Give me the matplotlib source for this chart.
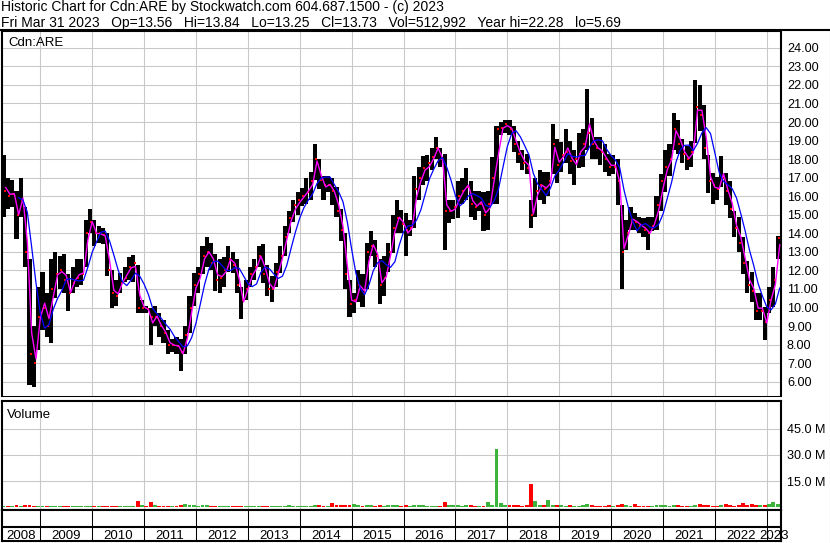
import matplotlib
matplotlib.use("Agg")
import matplotlib.pyplot as plt
import numpy as np
import pandas as pd

plt.rcParams["font.family"] = ["Liberation Sans", "DejaVu Sans"]

W, H = 830, 543

# ------------------ Data (monthly, Apr 2008 -> Mar 2023) ------------------
FIRST_MONTH = 2008.25   # April 2008 as decimal year

highs = [
    18.2, 17.0, 16.9, 16.3, 17.0, 15.4, 12.6, 9.0, 11.1,                      # 2008
    11.9, 10.8, 12.6, 13.0, 12.8, 12.9, 11.8, 12.2, 12.6, 12.6, 14.7, 15.3,   # 2009
    14.7, 14.4, 14.3, 14.0, 12.0, 11.5, 11.85, 12.2, 12.7, 12.85, 12.3, 10.4, # 2010
    10.1, 10.0, 10.1, 9.7, 9.3, 8.8, 8.3, 8.4, 8.3, 9.0, 10.6, 11.85,         # 2011
    12.2, 13.3, 13.8, 13.5, 12.9, 12.6, 12.7, 13.3, 13.0, 12.6, 11.1, 11.5,   # 2012
    12.2, 12.6, 13.3, 13.4, 12.3, 11.7, 12.4, 13.3, 14.4, 15.2, 15.8, 16.2,   # 2013
    16.45, 17.0, 17.3, 18.8, 18.0, 17.1, 17.1, 17.0, 16.5, 15.3, 14.0, 11.5,  # 2014
    10.8, 12.0, 11.8, 13.5, 14.1, 13.65, 12.6, 12.75, 13.5, 15.0, 15.8, 15.25,# 2015
    15.1, 14.7, 17.1, 17.6, 18.15, 18.2, 18.6, 19.2, 18.6, 18.3, 15.8, 15.8,  # 2016
    16.8, 17.0, 17.5, 16.8, 16.3, 16.3, 16.2, 16.3, 18.1, 19.8, 20.0, 20.1,   # 2017
    20.1, 19.8, 19.0, 18.5, 18.3, 15.8, 17.0, 17.4, 17.3, 17.3, 19.9, 19.1,   # 2018
    18.9, 19.6, 19.0, 18.5, 19.4, 19.6, 21.8, 20.2, 19.2, 19.2, 18.8, 18.3,   # 2019
    18.2, 18.0, 15.5, 14.7, 15.4, 15.1, 14.9, 14.8, 14.9, 14.9, 16.0, 17.2,   # 2020
    18.5, 18.8, 20.5, 20.1, 19.1, 18.7, 19.0, 22.28, 22.0, 20.9, 18.2, 17.25, # 2021
    17.05, 18.15, 17.25, 16.8, 15.2, 14.9, 13.8, 12.5, 11.9, 10.8, 10.8, 10.05,  # 2022
    11.1, 12.2, 13.84,                                                         # 2023
]
lows = [
    14.9, 15.3, 15.4, 13.7, 14.9, 12.2, 5.8, 5.69, 7.7,
    8.8, 8.4, 8.1, 10.5, 11.0, 10.8, 9.8, 10.8, 11.1, 11.2, 12.2, 14.0,
    13.3, 13.5, 13.4, 11.7, 10.0, 10.1, 10.8, 11.4, 11.5, 11.4, 9.7, 9.7,
    9.7, 8.0, 9.0, 8.4, 8.1, 7.5, 7.6, 7.5, 6.6, 7.5, 8.6, 10.1,
    10.8, 11.8, 12.2, 12.0, 10.9, 10.8, 11.1, 11.9, 11.85, 10.8, 9.4, 10.4,
    11.1, 11.5, 12.2, 11.3, 10.6, 10.3, 11.1, 11.85, 12.75, 14.0, 14.6, 15.0,
    15.45, 15.6, 15.8, 16.9, 16.4, 15.8, 16.2, 15.5, 14.9, 13.6, 11.0, 9.5,
    9.7, 10.3, 10.05, 11.0, 12.75, 12.2, 10.2, 10.6, 11.9, 12.95, 14.0, 14.0,
    12.75, 13.85, 14.3, 15.8, 16.6, 16.8, 17.4, 18.0, 17.6, 13.1, 14.55, 14.75,
    14.8, 15.6, 15.8, 14.9, 14.7, 15.2, 14.1, 14.2, 15.6, 15.6, 19.3, 19.4,
    19.3, 18.4, 17.8, 17.4, 17.2, 14.3, 14.9, 15.8, 15.6, 16.0, 17.2, 16.7,
    17.3, 17.8, 17.2, 16.6, 17.5, 17.6, 18.5, 18.0, 18.0, 17.7, 17.3, 17.1,
    17.2, 15.5, 11.0, 13.1, 14.2, 14.2, 14.0, 13.8, 13.1, 14.1, 14.2, 15.2,
    16.2, 17.1, 18.5, 18.3, 17.8, 17.4, 17.6, 18.85, 19.5, 18.0, 16.15, 15.6,
    15.8, 16.5, 15.5, 14.8, 13.8, 13.0, 11.8, 10.8, 10.3, 9.3, 9.3, 8.25,
    9.7, 10.05, 12.6,
]
closes = [
    16.3, 16.0, 16.1, 15.0, 15.8, 13.0, 7.5, 7.0, 9.5,
    10.0, 9.0, 11.0, 11.8, 12.0, 11.5, 10.8, 11.3, 11.6, 11.8, 14.0, 14.6,
    14.0, 14.0, 13.9, 12.0, 10.8, 10.6, 11.3, 11.6, 12.2, 12.4, 10.0, 10.0,
    9.9, 9.5, 9.5, 9.0, 8.6, 8.0, 8.0, 7.9, 7.6, 8.5, 10.0, 11.2,
    11.8, 12.8, 13.0, 12.4, 11.5, 11.6, 12.0, 12.6, 12.3, 11.2, 10.4, 11.0,
    11.8, 12.2, 12.8, 11.8, 11.0, 11.0, 11.9, 12.8, 13.8, 14.8, 15.5, 15.8,
    16.0, 16.2, 16.8, 18.0, 16.9, 16.6, 16.6, 16.3, 15.2, 14.2, 11.8, 10.2,
    10.4, 11.2, 10.8, 13.0, 13.3, 12.8, 11.2, 11.6, 13.0, 14.3, 14.8, 14.5,
    14.2, 14.3, 16.4, 17.0, 17.5, 17.8, 18.1, 18.6, 18.0, 15.2, 15.2, 15.4,
    16.0, 16.3, 16.5, 15.6, 15.4, 15.6, 15.0, 15.6, 17.0, 19.6, 19.7, 19.9,
    19.6, 18.8, 18.3, 17.8, 17.5, 15.0, 16.3, 16.6, 16.4, 16.8, 18.8, 17.7,
    18.2, 18.4, 17.9, 18.0, 18.3, 18.8, 19.4, 18.8, 18.6, 18.4, 18.0, 17.6,
    17.6, 16.8, 13.0, 14.0, 14.7, 14.6, 14.4, 14.2, 14.0, 14.4, 15.5, 16.8,
    17.6, 18.0, 19.6, 18.8, 18.3, 18.0, 18.4, 20.8, 20.4, 18.6, 16.8, 16.6,
    16.4, 17.0, 16.3, 15.3, 14.3, 13.5, 12.4, 11.2, 10.9, 9.8, 9.8, 9.2,
    10.4, 11.5, 13.73,
]
# peak daily volume per month, millions of shares
volume_m = [
    1.0, 0.8, 0.9, 1.2, 0.8, 1.1, 1.3, 0.9, 0.8,
    0.7, 0.6, 1.0, 0.9, 0.8, 0.7, 0.6, 0.7, 0.8, 0.6, 1.0, 0.9,
    0.7, 0.6, 0.6, 0.9, 0.8, 0.6, 0.5, 0.6, 0.7, 0.9, 3.8, 1.2,
    1.0, 3.3, 1.1, 0.9, 0.8, 0.7, 0.8, 0.9, 1.2, 1.9, 1.4, 1.1,
    1.0, 1.3, 1.1, 0.8, 0.9, 0.7, 0.6, 0.7, 0.8, 0.7, 1.0, 0.8,
    0.8, 0.7, 0.9, 1.0, 0.9, 0.7, 0.6, 0.8, 1.0, 1.1, 0.9, 0.8,
    0.9, 1.0, 1.0, 1.4, 1.2, 1.0, 0.9, 2.5, 1.1, 1.2, 1.6, 1.4,
    1.9, 1.2, 1.0, 1.3, 1.1, 0.9, 1.2, 1.0, 1.1, 1.3, 1.2, 1.0,
    1.2, 1.0, 1.5, 1.3, 1.1, 1.0, 0.9, 1.0, 0.9, 3.1, 1.4, 1.2,
    1.1, 1.0, 1.2, 1.1, 1.0, 0.9, 1.0, 3.1, 1.6, 33.5, 2.2, 1.6,
    1.4, 1.2, 1.1, 1.0, 1.2, 13.5, 3.7, 1.3, 1.1, 4.2, 1.5, 1.2,
    1.1, 1.0, 1.2, 0.9, 1.0, 1.1, 1.9, 1.2, 1.0, 0.9, 1.0, 1.1,
    1.0, 1.1, 1.8, 1.3, 1.0, 1.9, 1.0, 0.9, 1.0, 0.9, 1.1, 1.2,
    1.2, 1.0, 1.3, 1.1, 0.9, 1.0, 1.0, 1.4, 1.9, 1.2, 1.1, 1.0,
    1.0, 1.1, 2.1, 1.2, 1.0, 1.1, 2.5, 1.3, 1.9, 1.2, 1.1, 1.3,
    2.1, 3.3, 2.0,
]

year_labels = list(range(2008, 2024))
price_ticks = list(range(6, 25))
volume_ticks = [15, 30, 45]

HEADER_1 = "Historic Chart for Cdn:ARE by Stockwatch.com 604.687.1500 - (c) 2023"
HEADER_2 = ("Fri Mar 31 2023   Op=13.56   Hi=13.84   Lo=13.25   Cl=13.73   "
            "Vol=512,992   Year hi=22.28   lo=5.69")

# ------------------ Derived series ------------------
df = pd.DataFrame({"high": highs, "low": lows, "close": closes, "vol": volume_m})
df["t"] = FIRST_MONTH + np.arange(len(df)) / 12.0
df["mid"] = df["t"] + 1 / 24
df["end"] = df["t"] + 1 / 12
typical = (df["high"] + df["low"] + df["close"]) / 3
df["ma_short"] = typical
df["ma_long"] = typical.rolling(4).mean()
df["up"] = df["close"].diff().fillna(0) >= 0

# pixel calibration of the reference
X_LEFT = 2009 - (40.3 - 2) / 51.89
X_RIGHT = 2009 + (781 - 40.3) / 51.89
GRID = "#c8c8c8"
LW_THICK = 1.5
LW_THIN = 0.75
FS = 9.5        # panel texts
FS_TICK = 9.1   # right-hand value labels
FS_HEAD = 10    # header lines

fig = plt.figure(figsize=(W / 100, H / 100), dpi=100)


def px_axes(left, top, right, bottom):
    return fig.add_axes([left / W, 1 - bottom / H, (right - left) / W, (bottom - top) / H])


# ------------------ Price panel ------------------
ax = px_axes(2, 31, 781, 396)
ax.set_axisbelow(True)
ax.bar(df["mid"], df["high"] - df["low"], bottom=df["low"], width=0.95 / 12,
       color="black", linewidth=0, zorder=2)
ax.plot(df["mid"] + 0.3 / 12, df["close"], ls="none", marker="s", ms=1.8,
        mew=0, color="red", zorder=3)
ax.plot(df["end"], df["ma_short"], color="#ff00ff", lw=1.0, zorder=4)
ax.plot(df["end"], df["ma_long"], color="#0000ff", lw=0.9, zorder=5)

ax.set_xlim(X_LEFT, X_RIGHT)
ax.set_ylim(6 - (396 - 381.7) / 18.55, 24 + (47.8 - 31) / 18.55)
ax.set_xticks(year_labels[1:])
ax.set_yticks(price_ticks)
ax.set_yticklabels([f"{v:.2f}" for v in price_ticks])
ax.yaxis.tick_right()
ax.tick_params(axis="y", length=0, pad=4.3, labelsize=FS_TICK)
ax.tick_params(axis="x", length=0, labelbottom=False)
ax.grid(color=GRID, lw=LW_THIN)
for side in ["left", "right", "top"]:
    ax.spines[side].set_linewidth(LW_THICK)
ax.spines["bottom"].set_linewidth(LW_THIN)

# ------------------ Volume panel ------------------
axv = px_axes(2, 401, 781, 510)
axv.set_axisbelow(True)
vcol = np.where(df["up"], "#3cb43c", "#ff0000")
axv.bar(df["mid"], df["vol"], width=0.9 / 12, color=vcol, linewidth=0)
axv.set_xlim(X_LEFT, X_RIGHT)
axv.set_ylim(-(510 - 507.3) / 1.747, (507.3 - 401) / 1.747)
axv.set_xticks(year_labels[1:])
axv.set_yticks(volume_ticks)
axv.set_yticklabels([f"{v:.1f} M" for v in volume_ticks])
axv.yaxis.tick_right()
axv.tick_params(axis="y", length=0, pad=4.3, labelsize=FS_TICK)
axv.tick_params(axis="x", length=0, labelbottom=False)
axv.grid(color=GRID, lw=LW_THIN)
for side in axv.spines:
    axv.spines[side].set_linewidth(LW_THICK)

# ------------------ Date strip ------------------
axd = px_axes(2, 510, 781, 541)
axd.set_xlim(X_LEFT, X_RIGHT)
axd.set_ylim(0, 31)
axd.set_xticks([])
axd.set_yticks([])
axd.vlines(year_labels[1:], 0, 31, color="black", lw=LW_THIN)
axd.axhline(14, color="black", lw=LW_THICK)
for y in year_labels:
    lo, hi = max(y, X_LEFT), min(y + 1, X_RIGHT)
    axd.text((lo + hi) / 2, 1.8, str(y), ha="center", va="baseline",
             fontsize=FS, clip_on=False, zorder=1)
for side in axd.spines:
    axd.spines[side].set_linewidth(LW_THICK)
    axd.spines[side].set_zorder(5)

# ------------------ Header / frame overlay ------------------
ovl = fig.add_axes([0, 0, 1, 1])
ovl.set_xlim(0, W)
ovl.set_ylim(H, 0)
ovl.axis("off")
ovl.plot([0, W], [30.2, 30.2], color="black", lw=LW_THICK)
ovl.plot([829.5, 829.5], [30, H], color="black", lw=LW_THIN)
ovl.text(1, 10.5, HEADER_1, fontsize=FS_HEAD, va="baseline", ha="left")
ovl.text(1, 26.5, HEADER_2, fontsize=FS_HEAD, va="baseline", ha="left")
ovl.text(8, 45.5, "Cdn:ARE", fontsize=FS, va="baseline", ha="left")
ovl.text(7, 418.5, "Volume", fontsize=FS, va="baseline", ha="left")

fig.savefig("out.png", dpi=100)
